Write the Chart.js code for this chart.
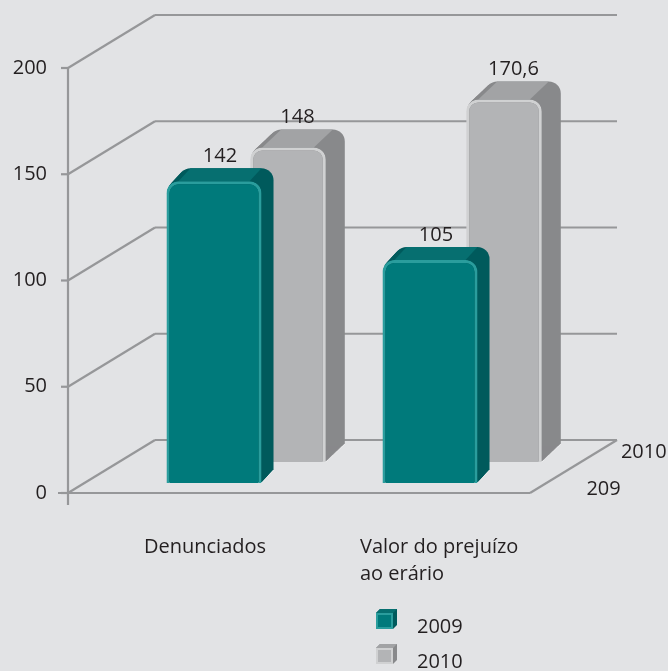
<!DOCTYPE html>
<html>
<head>
<meta charset="utf-8">
<script src="https://cdn.jsdelivr.net/npm/chart.js@4.4.1/dist/chart.umd.min.js"></script>
<style>
    html, body { margin: 0; padding: 0; background: #e2e3e5; }
    #wrap { width: 668px; height: 671px; }
</style>
</head>
<body>
<div id="wrap"><canvas id="chart" width="668" height="671"></canvas></div>
<script>
// data
const categories = ['Denunciados', ['Valor do prejuízo', 'ao erário']];
const values2009 = [142, 105];
const values2010 = [148, 170.6];
const seriesNames = ['2009', '2010'];
const yTicks = [0, 50, 100, 150, 200];
const depthLabels = ['209', '2010'];   // as printed on the depth axis

// look
const FONT = '"Open Sans", sans-serif';
const FONT_SIZE = 20;
const FONT_WEIGHT = '500';
const TEXT = '#231f20';
const LINE = '#969799';
const BG = '#e2e3e5';
const WALL = { x: 87, y: -53, right: 117, floor: 30 };
// per row: shift into depth, extrusion size, colours
const ROWS = [
    { dx: 38, dy: -10, sx: 12, sy: -13, front: '#007a7b', bevel: '#2a9d9d', side: '#005a5c', top: '#066f70' },
    { dx: 112, dy: -31, sx: 19, sy: -18, front: '#b3b4b6', bevel: '#d0d1d2', side: '#88898b', top: '#a2a3a5' }
];
const RADIUS = 12;

function line(ctx, x1, y1, x2, y2) {
    ctx.beginPath();
    ctx.moveTo(x1, y1);
    ctx.lineTo(x2, y2);
    ctx.stroke();
}

const backgroundPlugin = {
    id: 'bg',
    beforeDraw(chart) {
        const ctx = chart.ctx;
        ctx.save();
        ctx.fillStyle = BG;
        ctx.fillRect(0, 0, chart.width, chart.height);
        ctx.restore();
    }
};

// walls, floor and the left axis
const wallsPlugin = {
    id: 'walls',
    beforeDatasetsDraw(chart) {
        const ctx = chart.ctx;
        const { left, right, top, bottom } = chart.chartArea;
        const y = chart.scales.y;
        ctx.save();
        ctx.strokeStyle = LINE;
        ctx.lineWidth = 2.2;
        yTicks.forEach(v => {
            const py = y.getPixelForValue(v);
            line(ctx, left - 7, py, left, py);
            line(ctx, left, py, left + WALL.x, py + WALL.y);
            line(ctx, left + WALL.x, py + WALL.y, right + WALL.right, py + WALL.y);
        });
        line(ctx, left, top, left, bottom + 12);
        line(ctx, left - 10, bottom, right + WALL.floor, bottom);
        line(ctx, right + WALL.floor, bottom, right + WALL.floor + WALL.x, bottom + WALL.y);
        ctx.restore();
    }
};

// shift each row into depth and extrude its bars
const bars3dPlugin = {
    id: 'bars3d',
    beforeDatasetDraw(chart, args) {
        const ctx = chart.ctx;
        const row = ROWS[args.index];
        ctx.save();
        ctx.translate(row.dx, row.dy);
        args.meta.data.forEach(el => {
            const { x, y, base, width } = el.getProps(['x', 'y', 'base', 'width'], true);
            const left = x - width / 2;
            const h = base - y;
            const steps = Math.max(Math.abs(row.sx), Math.abs(row.sy));
            ctx.fillStyle = row.side;
            for (let k = 1; k <= steps; k++) {
                ctx.beginPath();
                ctx.roundRect(left + row.sx * k / steps, y + row.sy * k / steps, width, h, [RADIUS, RADIUS, 0, 0]);
                ctx.fill();
            }
            ctx.fillStyle = row.top;
            ctx.beginPath();
            ctx.moveTo(left + RADIUS, y);
            ctx.lineTo(left + RADIUS + row.sx, y + row.sy);
            ctx.lineTo(left + width - RADIUS + row.sx, y + row.sy);
            ctx.lineTo(left + width - RADIUS, y);
            ctx.closePath();
            ctx.fill();
            // light edge between front and side
            ctx.strokeStyle = 'rgba(255,255,255,0.35)';
            ctx.lineWidth = 1;
            line(ctx, left + width, base, left + width + row.sx, base + row.sy);
        });
    },
    afterDatasetDraw(chart) {
        chart.ctx.restore();
    }
};

const labelsPlugin = {
    id: 'labels',
    afterDatasetsDraw(chart) {
        const ctx = chart.ctx;
        const { right, bottom } = chart.chartArea;
        ctx.save();
        ctx.font = FONT_WEIGHT + ' ' + FONT_SIZE + 'px ' + FONT;
        ctx.fillStyle = TEXT;
        ctx.textAlign = 'center';
        ctx.textBaseline = 'middle';
        chart.data.datasets.forEach((ds, i) => {
            const row = ROWS[i];
            chart.getDatasetMeta(i).data.forEach((el, j) => {
                const tx = el.x + row.dx + row.sx / 2;
                const ty = el.y + row.dy + row.sy - 12;
                ctx.fillText(String(ds.data[j]).replace('.', ','), tx, ty);
            });
        });
        // depth axis labels
        ctx.textAlign = 'left';
        depthLabels.forEach((t, i) => {
            const row = ROWS[i];
            const fx = right + WALL.floor + (-row.dy) * WALL.x / -WALL.y;
            ctx.fillText(t, fx + 40, bottom + row.dy + (i === 0 ? 6 : -10));
        });
        ctx.restore();
    }
};

// legend stacked under the chart
const legendPlugin = {
    id: 'cubeLegend',
    afterDraw(chart) {
        const ctx = chart.ctx;
        ctx.save();
        ctx.font = FONT_WEIGHT + ' ' + FONT_SIZE + 'px ' + FONT;
        ctx.textBaseline = 'middle';
        ctx.textAlign = 'left';
        seriesNames.forEach((name, i) => {
            const row = ROWS[i];
            const bx = 376, by = 613 + i * 35;
            ctx.fillStyle = row.side;
            ctx.beginPath();
            ctx.moveTo(bx, by);
            ctx.lineTo(bx + 4, by - 4);
            ctx.lineTo(bx + 21, by - 4);
            ctx.lineTo(bx + 21, by + 12);
            ctx.lineTo(bx + 17, by + 16);
            ctx.closePath();
            ctx.fill();
            ctx.fillStyle = row.top;
            ctx.beginPath();
            ctx.moveTo(bx, by);
            ctx.lineTo(bx + 4, by - 4);
            ctx.lineTo(bx + 21, by - 4);
            ctx.lineTo(bx + 17, by);
            ctx.closePath();
            ctx.fill();
            ctx.fillStyle = row.bevel;
            ctx.fillRect(bx, by, 17, 16);
            ctx.fillStyle = row.front;
            ctx.fillRect(bx + 2, by + 2, 13, 12);
            ctx.fillStyle = TEXT;
            ctx.fillText(name, 417, by + 14);
        });
        ctx.restore();
    }
};

const ctx = document.getElementById('chart');
new Chart(ctx, {
    type: 'bar',
    data: {
        labels: categories,
        datasets: [
            {
                label: seriesNames[0],
                data: values2009,
                backgroundColor: ROWS[0].front,
                borderColor: ROWS[0].bevel,
                borderWidth: 3,
                borderSkipped: 'bottom',
                borderRadius: { topLeft: RADIUS, topRight: RADIUS, bottomLeft: 0, bottomRight: 0 },
                grouped: false,
                categoryPercentage: 1,
                barPercentage: 0.44,
                clip: false
            },
            {
                label: seriesNames[1],
                data: values2010,
                backgroundColor: ROWS[1].front,
                borderColor: ROWS[1].bevel,
                borderWidth: 3,
                borderSkipped: 'bottom',
                borderRadius: { topLeft: RADIUS, topRight: RADIUS, bottomLeft: 0, bottomRight: 0 },
                grouped: false,
                categoryPercentage: 1,
                barPercentage: 0.35,
                clip: false
            }
        ]
    },
    options: {
        responsive: false,
        animation: false,
        layout: { padding: { top: 68, right: 168, bottom: 0, left: 0 } },
        plugins: {
            legend: { display: false },
            tooltip: { enabled: false }
        },
        scales: {
            x: {
                grid: { display: false },
                border: { display: false },
                ticks: {
                    color: TEXT,
                    font: { family: FONT, size: FONT_SIZE, weight: FONT_WEIGHT, lineHeight: 1.35 },
                    align: 'start',
                    labelOffset: -32,
                    padding: 33,
                    maxRotation: 0,
                    autoSkip: false
                },
                afterFit(scale) { scale.height = 178; }
            },
            y: {
                min: 0,
                max: 200,
                grid: { display: false, drawTicks: false },
                border: { display: false },
                ticks: {
                    stepSize: 50,
                    color: TEXT,
                    font: { family: FONT, size: FONT_SIZE, weight: FONT_WEIGHT },
                    padding: 21
                },
                afterFit(scale) { scale.width = 68; }
            }
        }
    },
    plugins: [backgroundPlugin, wallsPlugin, bars3dPlugin, labelsPlugin, legendPlugin]
});
</script>
</body>
</html>
